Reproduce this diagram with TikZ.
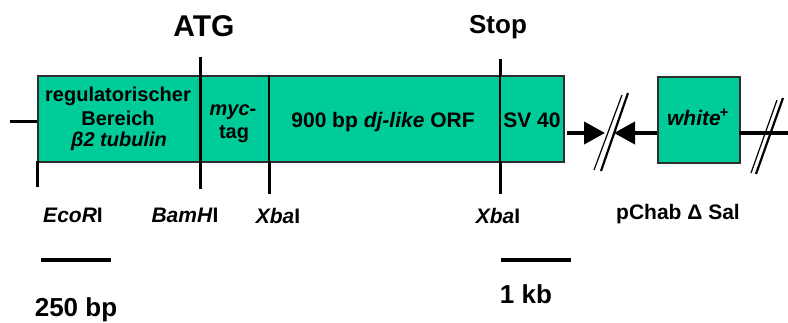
\documentclass[tikz,border=0pt]{standalone}
\usepackage{fontspec}
\setmainfont{Liberation Sans}
\usetikzlibrary{arrows.meta}
\definecolor{boxgreen}{HTML}{00CC99}
\definecolor{boxedge}{HTML}{2E2E2E}
\begin{document}
\begin{tikzpicture}[x=1pt,y=-1pt,
  gene/.style={draw=boxedge,line width=1.5pt,fill=boxgreen,inner sep=0pt,anchor=north west},
  txt/.style={inner sep=0pt,anchor=base,font=\bfseries\fontsize{20}{22}\selectfont},
  txtb/.style={inner sep=0pt,anchor=base,font=\bfseries\fontsize{21}{23}\selectfont},
  site/.style={inner sep=0pt,anchor=base,font=\bfseries\fontsize{21}{23}\selectfont},
  big/.style={inner sep=0pt,anchor=base,font=\bfseries\fontsize{26}{28}\selectfont},
  huge/.style={inner sep=0pt,anchor=base,font=\bfseries\fontsize{30}{32}\selectfont},
  tick/.style={line width=3pt},
  thin/.style={line width=2pt},
  bar/.style={line width=3.5pt},
  brk/.style={line width=1.2pt},
  brkb/.style={line width=2.2pt},
  tip/.style={-{Triangle[length=21pt,width=22pt]}}
]
\useasboundingbox (0,0) rectangle (788,322);

% boxes
\node[gene,minimum width=526pt,minimum height=86pt] (main) at (37,75) {};
\node[gene,minimum width=82pt,minimum height=86pt] (white) at (657,76) {};

% coordinates for marks
\coordinate (l0) at (10,121);
\coordinate (l1) at (37,121);
\coordinate (e1) at (37,161);
\coordinate (e2) at (37,187);
\coordinate (atgT) at (200,57);
\coordinate (atgB) at (200,189);
\coordinate (xa1) at (269,75);
\coordinate (xa2) at (269,161);
\coordinate (xa3) at (269,194);
\coordinate (st1) at (500,59);
\coordinate (st2) at (500,75);
\coordinate (st3) at (500,161);
\coordinate (st4) at (500,194);

\draw[tick] (l0) -- (l1);
\draw[tick] (e1) -- (e2);
\draw[tick] (atgT) -- (atgB);
\draw[thin] (xa1) -- (xa2);
\draw[tick] (xa2) -- (xa3);
\draw[tick] (st1) -- (st2);
\draw[thin] (st2) -- (st3);
\draw[tick] (st3) -- (st4);

% arrows and breaks
\coordinate (r0) at (567,133);
\coordinate (r1) at (605,133);
\coordinate (w0) at (657,133);
\coordinate (w1) at (614,133);
\coordinate (z0) at (739,133);
\coordinate (z1) at (788,133);
\draw[line width=4pt,tip] (r0) -- (r1);
\draw[line width=4pt,tip] (w0) -- (w1);
\draw[line width=3.5pt] (z0) -- (z1);

\coordinate (b1a) at (594,170); \coordinate (b1b) at (622,95);
\coordinate (b2a) at (601,171); \coordinate (b2b) at (628,93);
\draw[brk] (b1a) -- (b1b);
\draw[brkb] (b2a) -- (b2b);
\coordinate (c1a) at (751,173); \coordinate (c1b) at (777,100);
\coordinate (c2a) at (756,174); \coordinate (c2b) at (783,98);
\draw[brk] (c1a) -- (c1b);
\draw[brkb] (c2a) -- (c2b);

% texts inside boxes
\node[txt] (rg1) at (118,101) {regulatorischer};
\node[txt] (rg2) at (118,125) {Bereich};
\node[txt] (rg3) at (119,146) {\itshape β2 tubulin};
\node[txt] (myc) at (233,115) {\itshape myc-};
\node[txt] (tag) at (234,138) {tag};
\node[txtb] (orf) at (383,127) {900 bp \textit{dj-like} ORF};
\node[txtb] (sv) at (532,127) {SV 40};
\node[txtb] (wh) at (698,125) {\textit{white}\kern-1pt\textsuperscript{+}};

% top labels
\node[huge] (atg) at (204,36) {ATG};
\node[big] (stop) at (498,33) {Stop};

% site labels
\node[site] (eco) at (73,222) {\textit{EcoR}I};
\node[site] (bam) at (185,222) {\textit{BamH}I};
\node[site] (xba1) at (278,223) {\textit{Xba}I};
\node[site] (xba2) at (498,223) {\textit{Xba}I};
\node[site] (pch) at (678,219) {pChab Δ Sal};

% scale bars
\coordinate (s1a) at (41,260); \coordinate (s1b) at (111,260);
\coordinate (s2a) at (501,260); \coordinate (s2b) at (571,260);
\draw[bar] (s1a) -- (s1b);
\draw[bar] (s2a) -- (s2b);
\node[big] (bp) at (76,316) {250 bp};
\node[big] (kb) at (526,303) {1 kb};
\end{tikzpicture}
\end{document}
